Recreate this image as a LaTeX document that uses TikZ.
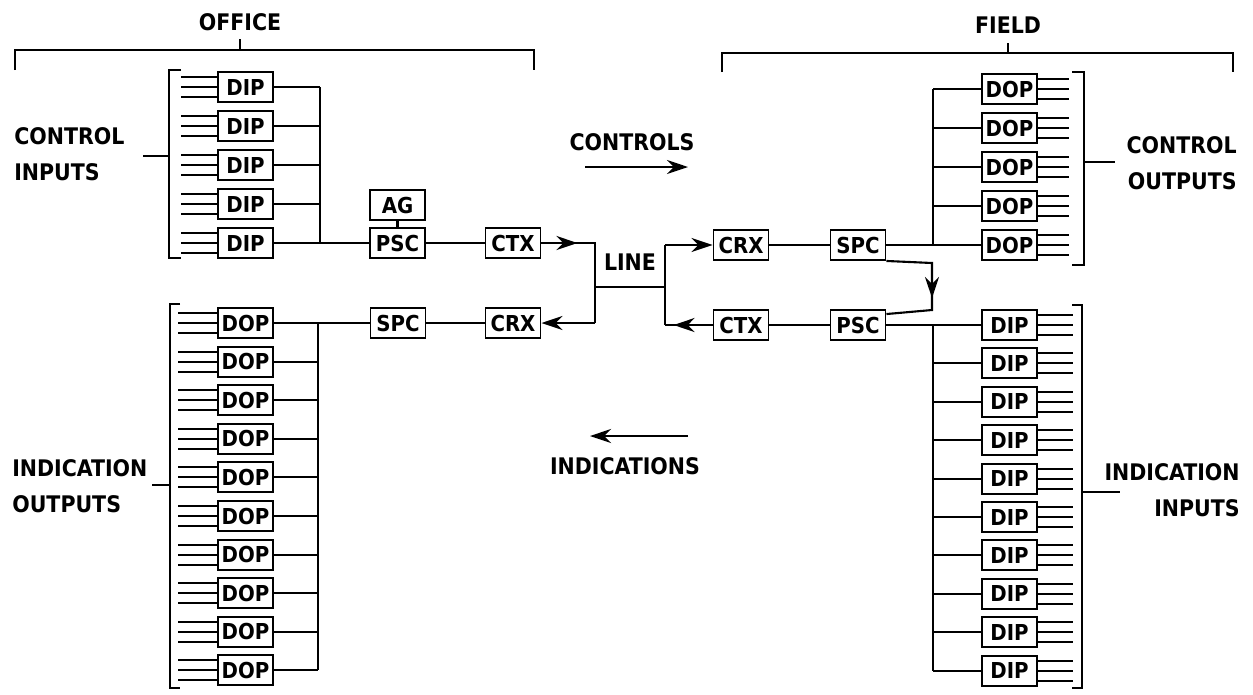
\documentclass[tikz,border=0pt]{standalone}
\usepackage{fontspec}
\setmainfont{DejaVu Sans Condensed}
\usetikzlibrary{arrows.meta}

\begin{document}
\begin{tikzpicture}[
    x=0.02cm,
    y=-0.02cm,
    unit/.style={
        draw,
        line width=1.1pt,
        minimum width=1.1cm,
        minimum height=0.6cm,
        inner sep=0pt,
        font=\bfseries\fontsize{12.5}{14}\selectfont
    },
    wire/.style={
        line width=1.2pt
    },
    flow/.style={
        wire,
        -{Stealth[length=12pt,width=8pt]}
    },
    caption/.style={
        font=\bfseries\fontsize{13}{20.5}\selectfont,
        inner sep=0pt
    }
]
\useasboundingbox (0,0) rectangle (1253,694);

% Office and field brackets
\node [caption] (office) at (240,22) {OFFICE};
\draw [wire] (15,70) -- (15,50) -- (534,50) -- (534,70);
\draw [wire] (240,50) -- (240,39);
\node [caption] (field) at (1008,25) {FIELD};
\draw [wire] (722,72) -- (722,53) -- (1233,53) -- (1233,72);
\draw [wire] (1008,53) -- (1008,43);

% Side captions
\node [caption, anchor=west, align=left] (cin) at (14,154) {CONTROL\\INPUTS};
\node [caption, anchor=west, align=left] (iout) at (12,486) {INDICATION\\OUTPUTS};
\node [caption, anchor=east, align=right] (cout) at (1237,163) {CONTROL\\OUTPUTS};
\node [caption, anchor=east, align=right] (iin) at (1240,490) {INDICATION\\INPUTS};

% Office control inputs
\coordinate (ocbus) at (320,0);
\foreach \i [evaluate=\i as \y using 87+39*(\i-1)] in {1,...,5} {
    \node [unit] (odip\i) at (245.5,\y) {DIP};
    \foreach \dy in {-0.2,0,0.2}
        \draw [wire] ([yshift=\dy cm]odip\i.west) -- ++(-36,0);
    \draw [wire] (odip\i.east) -- (odip\i.east -| ocbus);
}
\draw [wire] (181,70) -- (169,70) -- (169,258) -- (181,258);
\draw [wire] (169,156) -- (143,156);

% Office indication outputs
\coordinate (oibus) at (318,0);
\foreach \i [evaluate=\i as \y using 323+38.6*(\i-1)] in {1,...,10} {
    \node [unit] (odop\i) at (245.5,\y) {DOP};
    \foreach \dy in {-0.2,0,0.2}
        \draw [wire] ([yshift=\dy cm]odop\i.west) -- ++(-39,0);
    \draw [wire] (odop\i.east) -- (odop\i.east -| oibus);
}
\draw [wire] (180,304) -- (170,304) -- (170,688) -- (180,688);
\draw [wire] (170,485) -- (152,485);

% Office line units
\node [unit] (opsc) at (397.5,243) {PSC};
\node [unit] (oag) at (397.5,205) {AG};
\node [unit] (octx) at (513,243) {CTX};
\node [unit] (ospc) at (398,323) {SPC};
\node [unit] (ocrx) at (513,323) {CRX};

\draw [wire] (odip1.east -| ocbus) -- (odip5.east -| ocbus) -- (opsc.west);
\draw [wire] (oag) -- (opsc);
\draw [wire] (opsc) -- (octx);
\draw [wire] (odop1.east -| oibus) -- (odop10.east -| oibus);
\draw [wire] (odop1.east) -- (ospc.west);
\draw [wire] (ospc) -- (ocrx);

% Line
\coordinate (la) at (595,243);
\coordinate (lb) at (595,323);
\coordinate (le) at (665,245);
\coordinate (lf) at (665,325);
\draw [wire] (octx.east) -- (la) -- (lb);
\draw [flow] (octx.east) -- ++(36,0);
\draw [flow] (lb) -- (ocrx.east);
\draw [wire] (595,287) -- node[caption, above=9pt] (line) {LINE} (665,287);
\draw [wire] (le) -- (lf);

% Field line units
\node [unit] (fcrx) at (741,245) {CRX};
\node [unit] (fspc) at (858,245) {SPC};
\node [unit] (fctx) at (741,325) {CTX};
\node [unit] (fpsc) at (858,325) {PSC};

\draw [flow] (le) -- (fcrx.west);
\draw [wire] (fctx.west) -- (lf);
\draw [flow] (fctx.west) -- ++(-39,0);
\draw [wire] (fcrx) -- (fspc);
\draw [wire] (fpsc) -- (fctx);
\draw [wire] (fspc.south east) -- (932,263) -- (932,310) -- ([yshift=-0.1cm]fpsc.north east);
\draw [flow] (932,263) -- (932,298);

% Field control outputs
\coordinate (fcbus) at (933,0);
\foreach \i [evaluate=\i as \y using 89+39*(\i-1)] in {1,...,5} {
    \node [unit] (fdop\i) at (1009.5,\y) {DOP};
    \foreach \dy in {-0.2,0,0.2}
        \draw [wire] ([yshift=\dy cm]fdop\i.east) -- ++(31,0);
    \draw [wire] (fdop\i.west) -- (fdop\i.west -| fcbus);
}
\draw [wire] (fdop1.west -| fcbus) -- (fdop5.west -| fcbus);
\draw [wire] (fspc.east) -- (fdop5.west);
\draw [wire] (1072,72) -- (1084,72) -- (1084,265) -- (1072,265);
\draw [wire] (1084,162) -- (1115,162);

% Field indication inputs
\coordinate (fibus) at (933,0);
\foreach \i [evaluate=\i as \y using 325+38.4*(\i-1)] in {1,...,10} {
    \node [unit] (fdip\i) at (1009.5,\y) {DIP};
    \foreach \dy in {-0.2,0,0.2}
        \draw [wire] ([yshift=\dy cm]fdip\i.east) -- ++(35,0);
    \draw [wire] (fdip\i.west) -- (fdip\i.west -| fibus);
}
\draw [wire] (fdip1.west -| fibus) -- (fdip10.west -| fibus);
\draw [wire] (fpsc.east) -- (fdip1.west);
\draw [wire] (1072,305) -- (1082,305) -- (1082,688) -- (1072,688);
\draw [wire] (1082,492) -- (1120,492);

% Direction of flow
\node [caption] (controls) at (632,142) {CONTROLS};
\draw [flow] (585,167) -- (688,167);
\node [caption] (indications) at (625,466) {INDICATIONS};
\draw [flow] (688,436) -- (590,436);

\end{tikzpicture}
\end{document}
